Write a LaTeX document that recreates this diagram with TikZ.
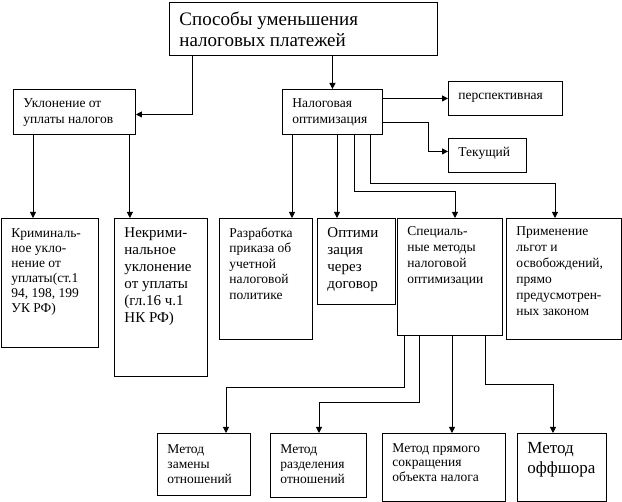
\documentclass[tikz,border=0pt]{standalone}
\usepackage{fontspec}
\setmainfont{Liberation Serif}
\usetikzlibrary{arrows.meta}

% box text: width, height, first baseline, lines
\newcommand{\cell}[4]{\parbox[t][#2pt][t]{#1pt}{\raggedright\leftskip=10pt\rule{0pt}{#3pt}#4}}

\begin{document}
\begin{tikzpicture}[
    x=1pt, y=-1pt,
    line width=0.9pt,
    blk/.style={draw, anchor=north west, inner sep=0pt, font=\fontsize{13.5}{15.5}\selectfont},
    large/.style={font=\fontsize{15}{17}\selectfont},
    arrow/.style={-{Triangle[length=6pt,width=6pt]}}
]
\useasboundingbox (0,0) rectangle (622,502);

% Top
\node[blk, font=\fontsize{19}{21}\selectfont] (ways) at (169,2) {\cell{268}{53}{23}{Способы уменьшения\\налоговых платежей}};

% Second row
\node[blk, font=\fontsize{13.5}{16}\selectfont] (evasion) at (13,89) {\cell{122}{45}{18}{Уклонение от\\уплаты налогов}};
\node[blk, font=\fontsize{13.5}{16}\selectfont] (optim) at (282,89) {\cell{100}{45}{18}{Налоговая\\оптимизация}};
\node[blk] (persp) at (448,81) {\cell{114}{34}{18}{перспективная}};
\node[blk] (curr) at (448,138) {\cell{78}{34}{18}{Текущий}};

% Third row
\node[blk, font=\fontsize{13.5}{15}\selectfont] (crim) at (1,218) {\cell{97}{129}{19}{Криминаль-\\ное укло-\\нение от\\уплаты(ст.1\\94, 198, 199\\УК РФ)}};
\node[blk, large] (noncrim) at (114,218) {\cell{93}{158}{19}{Некрими-\\нальное\\уклонение\\от уплаты\\(гл.16 ч.1\\НК РФ)}};
\node[blk] (policy) at (219,218) {\cell{93}{121}{19}{Разработка\\приказа об\\учетной\\налоговой\\политике}};
\node[blk, large] (contract) at (317,218) {\cell{78}{86}{19}{Оптими\\зация\\через\\договор}};
\node[blk, font=\fontsize{13.5}{16}\selectfont] (special) at (397,218) {\cell{105}{117}{17}{Специаль-\\ные методы\\налоговой\\оптимизации}};
\node[blk, font=\fontsize{13.5}{16}\selectfont] (benefits) at (506,218) {\cell{115}{121}{17}{Применение\\льгот и\\освобождений,\\прямо\\предусмотрен-\\ных законом}};

% Methods
\node[blk, font=\fontsize{13.5}{15}\selectfont] (subst) at (157,433) {\cell{93}{62}{20}{Метод\\замены\\отношений}};
\node[blk, font=\fontsize{13.5}{15}\selectfont] (split) at (270,433) {\cell{96}{64}{20}{Метод\\разделения\\отношений}};
\node[blk, font=\fontsize{13.5}{14.5}\selectfont] (direct) at (382,433) {\cell{123}{68}{19}{Метод прямого\\сокращения\\объекта налога}};
\node[blk, font=\fontsize{17}{20}\selectfont] (offshore) at (517,433) {\cell{89}{68}{20}{Метод\\оффшора}};

% Arrows
\draw[arrow] ([xshift=23pt]ways.south west) |- ([yshift=-2.5pt]evasion.east);
\draw[arrow] (ways.south -| optim.north) -- (optim.north);
\draw[arrow] (optim.east |- persp.west) -- (persp.west);
\draw[arrow] ([yshift=-10.5pt]optim.east) -- ++(46,0) |- ([yshift=4pt]curr.west);

\draw[arrow] ([xshift=20pt]evasion.south west) -- ([xshift=20pt]evasion.south west |- crim.north);
\draw[arrow] ([xshift=-6pt]evasion.south east) -- ([xshift=-6pt]evasion.south east |- noncrim.north);

\draw[arrow] ([xshift=10pt]optim.south west) -- ([xshift=10pt]optim.south west |- policy.north);
\draw[arrow] ([xshift=55pt]optim.south west) -- ([xshift=55pt]optim.south west |- contract.north);
\draw[arrow] ([xshift=72pt]optim.south west) -- ++(0,57) -| ([xshift=58pt]special.north west);
\draw[arrow] ([xshift=88pt]optim.south west) -- ++(0,49) -| ([xshift=49pt]benefits.north west);

\draw[arrow] ([xshift=7pt]special.south west) -- ++(0,52) -| ([xshift=69pt]subst.north west);
\draw[arrow] ([xshift=22pt]special.south west) -- ++(0,67) -| ([xshift=49pt]split.north west);
\draw[arrow] ([xshift=55pt]special.south west) -- ([xshift=55pt]special.south west |- direct.north);
\draw[arrow] ([xshift=88pt]special.south west) -- ++(0,49) -| ([xshift=36pt]offshore.north west);
\end{tikzpicture}
\end{document}
